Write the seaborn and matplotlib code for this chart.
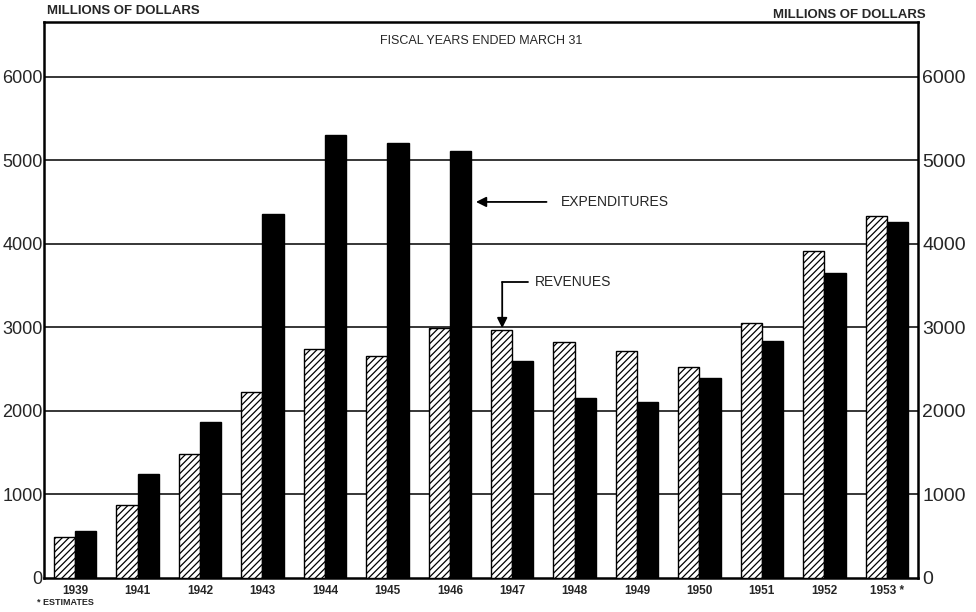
import pandas as pd
import numpy as np
import matplotlib
matplotlib.use("Agg")
import matplotlib.pyplot as plt
import seaborn as sns

# fiscal years ended March 31 (1953 = estimates)
years = ['1939', '1941', '1942', '1943', '1944', '1945', '1946',
         '1947', '1948', '1949', '1950', '1951', '1952', '1953']
year_labels = ['1939', '1941', '1942', '1943', '1944', '1945', '1946',
               '1947', '1948', '1949', '1950', '1951', '1952', '1953 *']
revenues = [490, 875, 1485, 2230, 2740, 2660, 2995,
            2970, 2825, 2720, 2525, 3055, 3915, 4335]
expenditures = [560, 1245, 1870, 4360, 5305, 5210, 5115,
                2600, 2155, 2110, 2395, 2840, 3650, 4265]
y_ticks = [0, 1000, 2000, 3000, 4000, 5000, 6000]

df = pd.DataFrame({
    'year': years * 2,
    'value': revenues + expenditures,
    'kind': ['Revenues'] * len(years) + ['Expenditures'] * len(years),
})

sns.set_theme(style='white')
plt.rcParams['font.family'] = ['Liberation Sans', 'DejaVu Sans']
plt.rcParams['hatch.linewidth'] = 0.9

fig = plt.figure(figsize=(9.76, 6.12), dpi=100)
ax = fig.add_axes([0.045, 0.0556, 0.8956, 0.908])

sns.barplot(data=df, x='year', y='value', hue='kind', order=years,
            hue_order=['Revenues', 'Expenditures'],
            palette={'Revenues': 'white', 'Expenditures': 'black'},
            width=0.68, gap=0, edgecolor='black', linewidth=1.0,
            legend=False, ax=ax, zorder=3)

# revenues drawn as hatched bars
for bar in ax.containers[0]:
    bar.set_hatch('/////')
    bar.set_facecolor('white')
    bar.set_edgecolor('black')

ax.set_ylim(0, 6650)
ax.set_xlim(-0.5, 13.5)
ax.set_yticks(y_ticks)
ax.set_yticklabels([str(t) for t in y_ticks], fontsize=13)
ax.set_xticks(range(len(years)))
ax.set_xticklabels(year_labels, fontsize=8.5, fontweight='bold')
ax.set_xlabel('')
ax.set_ylabel('')
ax.tick_params(axis='y', length=0, pad=1)
ax.tick_params(axis='x', length=0, pad=5)
for t in y_ticks[1:]:
    ax.axhline(t, color='black', linewidth=1.1, zorder=1)
for s in ax.spines.values():
    s.set_color('black')
    s.set_linewidth(1.8)

ax2 = ax.twinx()
ax2.set_ylim(0, 6650)
ax2.set_yticks(y_ticks)
ax2.set_yticklabels([str(t) for t in y_ticks], fontsize=14)
ax2.tick_params(axis='y', length=0, pad=3)
ax2.grid(False)
for s in ax2.spines.values():
    s.set_visible(False)

fig.text(0.048, 0.972, 'MILLIONS OF DOLLARS', fontsize=9.5, fontweight='bold',
         ha='left', va='bottom')
fig.text(0.948, 0.965, 'MILLIONS OF DOLLARS', fontsize=9.5, fontweight='bold',
         ha='right', va='bottom')
ax.text(6.5, 6430, 'FISCAL YEARS ENDED MARCH 31', fontsize=9, ha='center',
        va='center')
fig.text(0.038, 0.008, '* ESTIMATES', fontsize=6.5, fontweight='bold',
         ha='left', va='bottom')

# annotations
ax.annotate('', xy=(6.42, 4500), xytext=(7.55, 4500),
            arrowprops=dict(arrowstyle='-|>', color='black', lw=1.3,
                            mutation_scale=15, shrinkA=0, shrinkB=0))
ax.text(7.78, 4500, 'EXPENDITURES', fontsize=10, va='center', ha='left')

ax.plot([7.25, 6.84], [3540, 3540], color='black', lw=1.3)
ax.annotate('', xy=(6.84, 2990), xytext=(6.84, 3540),
            arrowprops=dict(arrowstyle='-|>', color='black', lw=1.3,
                            mutation_scale=15, shrinkA=0, shrinkB=0))
ax.text(7.36, 3540, 'REVENUES', fontsize=10, va='center', ha='left')

fig.savefig('out.png', dpi=100)
